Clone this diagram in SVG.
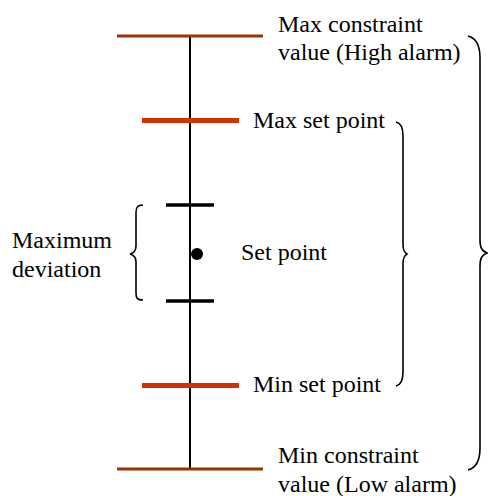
<svg xmlns="http://www.w3.org/2000/svg" width="488" height="496" viewBox="0 0 488 496">
<style>
.t{font-family:"Liberation Serif","Times New Roman",serif;font-size:24px;fill:#000}
.axis{stroke:#000;stroke-width:2;fill:none}
.limit{stroke:#993300;stroke-width:3}
.sp{stroke:#CC3300;stroke-width:5}
.tick{stroke:#000;stroke-width:3.5}
.brace{stroke:#000;stroke-width:1.6;fill:none}
</style>
<rect width="488" height="496" fill="#fff"/>
<g id="connectors">
<line class="axis" x1="190" y1="36" x2="190" y2="469"/>
<path id="brace-deviation" class="brace" d="M143,205 C137,205 136,208 136,213 L136,246 C136,251 134,253 130,254 C134,255 136,257 136,262 L136,293 C136,298 137,300 143,300"/>
<path id="brace-setpoints" class="brace" d="M396,122 C401,123 403,128 403,136 L403,244 C403,250 404,252 407,254 C404,256 403,258 403,264 L403,372 C403,380 401,385 396,386"/>
<path id="brace-constraints" class="brace" d="M468,36 C476,38 480,46 480,58 L480,240 C480,248 482,251 487,253 C482,255 480,258 480,266 L480,448 C480,460 476,468 468,470"/>
</g>
<g id="max-constraint">
<line class="limit" x1="117" y1="36" x2="263" y2="36"/>
<text class="t" x="278" y="32">Max constraint</text>
<text class="t" x="278" y="60">value (High alarm)</text>
</g>
<g id="max-set-point">
<line class="sp" x1="142" y1="120.5" x2="239" y2="120.5"/>
<text class="t" x="253" y="128">Max set point</text>
</g>
<g id="deviation">
<line class="tick" x1="166" y1="205" x2="214" y2="205"/>
<line class="tick" x1="166" y1="301" x2="214" y2="301"/>
<text class="t" x="12" y="248">Maximum</text>
<text class="t" x="12" y="277">deviation</text>
</g>
<g id="set-point">
<circle cx="197" cy="254" r="6" fill="#000"/>
<text class="t" x="241" y="260">Set point</text>
</g>
<g id="min-set-point">
<line class="sp" x1="142" y1="385.5" x2="239" y2="385.5"/>
<text class="t" x="253" y="392">Min set point</text>
</g>
<g id="min-constraint">
<line class="limit" x1="117" y1="469" x2="263" y2="469"/>
<text class="t" x="278" y="463">Min constraint</text>
<text class="t" x="278" y="492">value (Low alarm)</text>
</g>
</svg>
